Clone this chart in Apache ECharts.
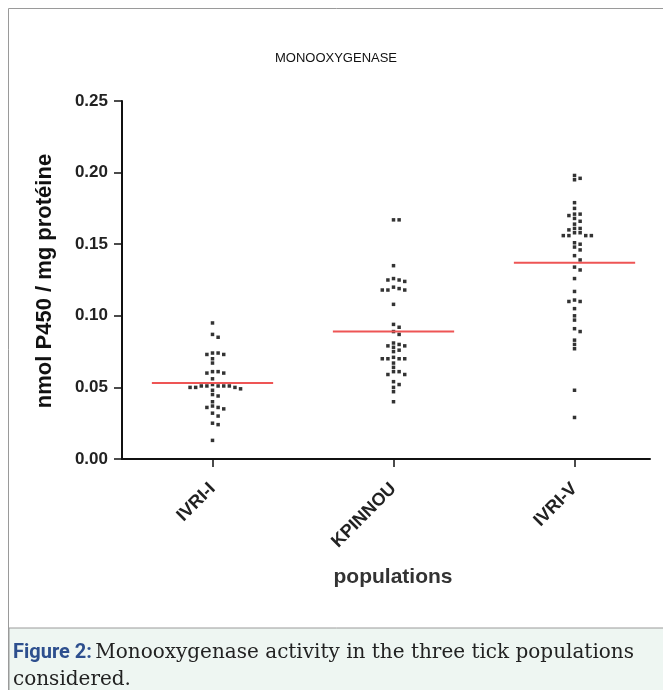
<!DOCTYPE html>
<html>
<head>
<meta charset="utf-8">
<script src="https://cdn.jsdelivr.net/npm/echarts@6/dist/echarts.min.js"></script>
<style>
html,body{margin:0;padding:0;background:#fff;}
#chart{width:663px;height:690px;}
</style>
</head>
<body>
<div id="chart"></div>
<script>
const categories = ['IVRI-I', 'KPINNOU', 'IVRI-V'];
const ivriI = [0.095, 0.087, 0.085, 0.074, 0.073, 0.073, 0.074, 0.070, 0.067, 0.061, 0.060, 0.060, 0.061, 0.056,
  0.052, 0.051, 0.050, 0.051, 0.051, 0.050, 0.051, 0.051, 0.050, 0.049, 0.048, 0.045, 0.044, 0.040, 0.037,
  0.036, 0.036, 0.035, 0.032, 0.030, 0.025, 0.024, 0.013];
const kpinnou = [0.167, 0.167, 0.135, 0.125, 0.125, 0.126, 0.124, 0.118, 0.118, 0.118, 0.119, 0.120, 0.108,
  0.094, 0.092, 0.089, 0.087, 0.079, 0.081, 0.080, 0.078, 0.079, 0.075, 0.076, 0.070, 0.070, 0.070, 0.067,
  0.070, 0.071, 0.064, 0.061, 0.059, 0.059, 0.061, 0.052, 0.054, 0.050, 0.047, 0.040];
const ivriV = [0.198, 0.195, 0.196, 0.179, 0.175, 0.170, 0.171, 0.171, 0.168, 0.166, 0.164, 0.161, 0.161, 0.160,
  0.158, 0.156, 0.156, 0.156, 0.156, 0.158, 0.151, 0.150, 0.148, 0.146, 0.142, 0.139, 0.134, 0.132, 0.126,
  0.117, 0.111, 0.110, 0.110, 0.105, 0.100, 0.097, 0.089, 0.091, 0.083, 0.080, 0.077, 0.048, 0.029];
const means = [0.053, 0.089, 0.137];
const groups = [ivriI, kpinnou, ivriV];

// column-scatter layout: spread overlapping points sideways
function spread(values, center) {
  const sorted = values.slice().sort((a, b) => b - a);
  const placed = [];
  const step = 0.031, tol = 0.003;
  const out = [];
  sorted.forEach(v => {
    for (let k = 0; k < 20; k++) {
      const o = k === 0 ? 0 : (k % 2 === 1 ? (k + 1) / 2 : -k / 2);
      const clash = placed.some(p => Math.abs(p.v - v) < tol && p.o === o);
      if (!clash) { placed.push({v, o}); out.push([center + o * step, v]); break; }
    }
  });
  return out;
}

const series = [];
groups.forEach((g, i) => {
  series.push({
    type: 'scatter', data: spread(g, i + 1), symbol: 'rect', symbolSize: 3.5,
    itemStyle: {color: '#000'}, silent: true, z: 2
  });
  series.push({
    type: 'line', data: [[i + 1 - 0.335, means[i]], [i + 1 + 0.335, means[i]]],
    symbol: 'none', lineStyle: {color: '#ee5555', width: 2}, silent: true, z: 3
  });
});

const chart = echarts.init(document.getElementById('chart'), null, {renderer: 'canvas'});
chart.setOption({
  animation: false,
  backgroundColor: '#fff',
  grid: {left: 122, right: 13, top: 101, bottom: 231, containLabel: false},
  xAxis: {
    type: 'value', min: 0.5, max: 3.417,
    splitLine: {show: false},
    axisLine: {show: true, onZero: false, lineStyle: {color: '#111', width: 2}},
    axisTick: {show: true, length: 8, lineStyle: {color: '#111', width: 1.5}, customValues: [1, 2, 3]},
    axisLabel: {
      customValues: [1, 2, 3], rotate: 45, margin: 27,
      formatter: v => categories[Math.round(v) - 1] || '',
      fontFamily: 'Liberation Sans', fontWeight: 'bold', fontSize: 18, color: '#222'
    }
  },
  yAxis: {
    type: 'value', min: 0, max: 0.25, interval: 0.05,
    splitLine: {show: false},
    axisLine: {show: true, lineStyle: {color: '#111', width: 2}},
    axisTick: {show: true, length: 8, lineStyle: {color: '#111', width: 1.5}},
    axisLabel: {
      formatter: v => v.toFixed(2), margin: 14,
      fontFamily: 'Liberation Sans', fontWeight: 'bold', fontSize: 17, color: '#222'
    }
  },
  series: series,
  graphic: [
    {type: 'rect', shape: {x: 8.5, y: 8.5, width: 700, height: 700}, style: {fill: 'none', stroke: '#9a9a9a', lineWidth: 1}, z: -10},
    {type: 'rect', shape: {x: 9, y: 628, width: 660, height: 70}, style: {fill: '#eef6f2', stroke: '#9a9a9a', lineWidth: 1}, z: -9},
    {type: 'text', x: 336, y: 58, style: {text: 'MONOOXYGENASE', font: '13px "Liberation Sans"', fill: '#111', textAlign: 'center', textVerticalAlign: 'middle'}},
    {type: 'text', x: 45, y: 281, rotation: Math.PI / 2, style: {text: 'nmol P450 / mg protéine', font: 'bold 22px "Liberation Sans"', fill: '#111', textAlign: 'center', textVerticalAlign: 'middle'}},
    {type: 'text', x: 393, y: 577, style: {text: 'populations', font: 'bold 21px "Liberation Sans"', fill: '#333', textAlign: 'center', textVerticalAlign: 'middle'}},
    {type: 'text', x: 13, y: 653, style: {
      text: '{b|Figure 2:} {n|Monooxygenase activity in the three tick populations}',
      textVerticalAlign: 'middle',
      rich: {
        b: {font: 'bold 20px Roboto', fill: '#2d4f8e'},
        n: {font: '20px "DejaVu Serif"', fill: '#222'}
      }
    }},
    {type: 'text', x: 13, y: 680, style: {text: 'considered.', font: '20px "DejaVu Serif"', fill: '#222', textVerticalAlign: 'middle'}}
  ]
});
</script>
</body>
</html>
